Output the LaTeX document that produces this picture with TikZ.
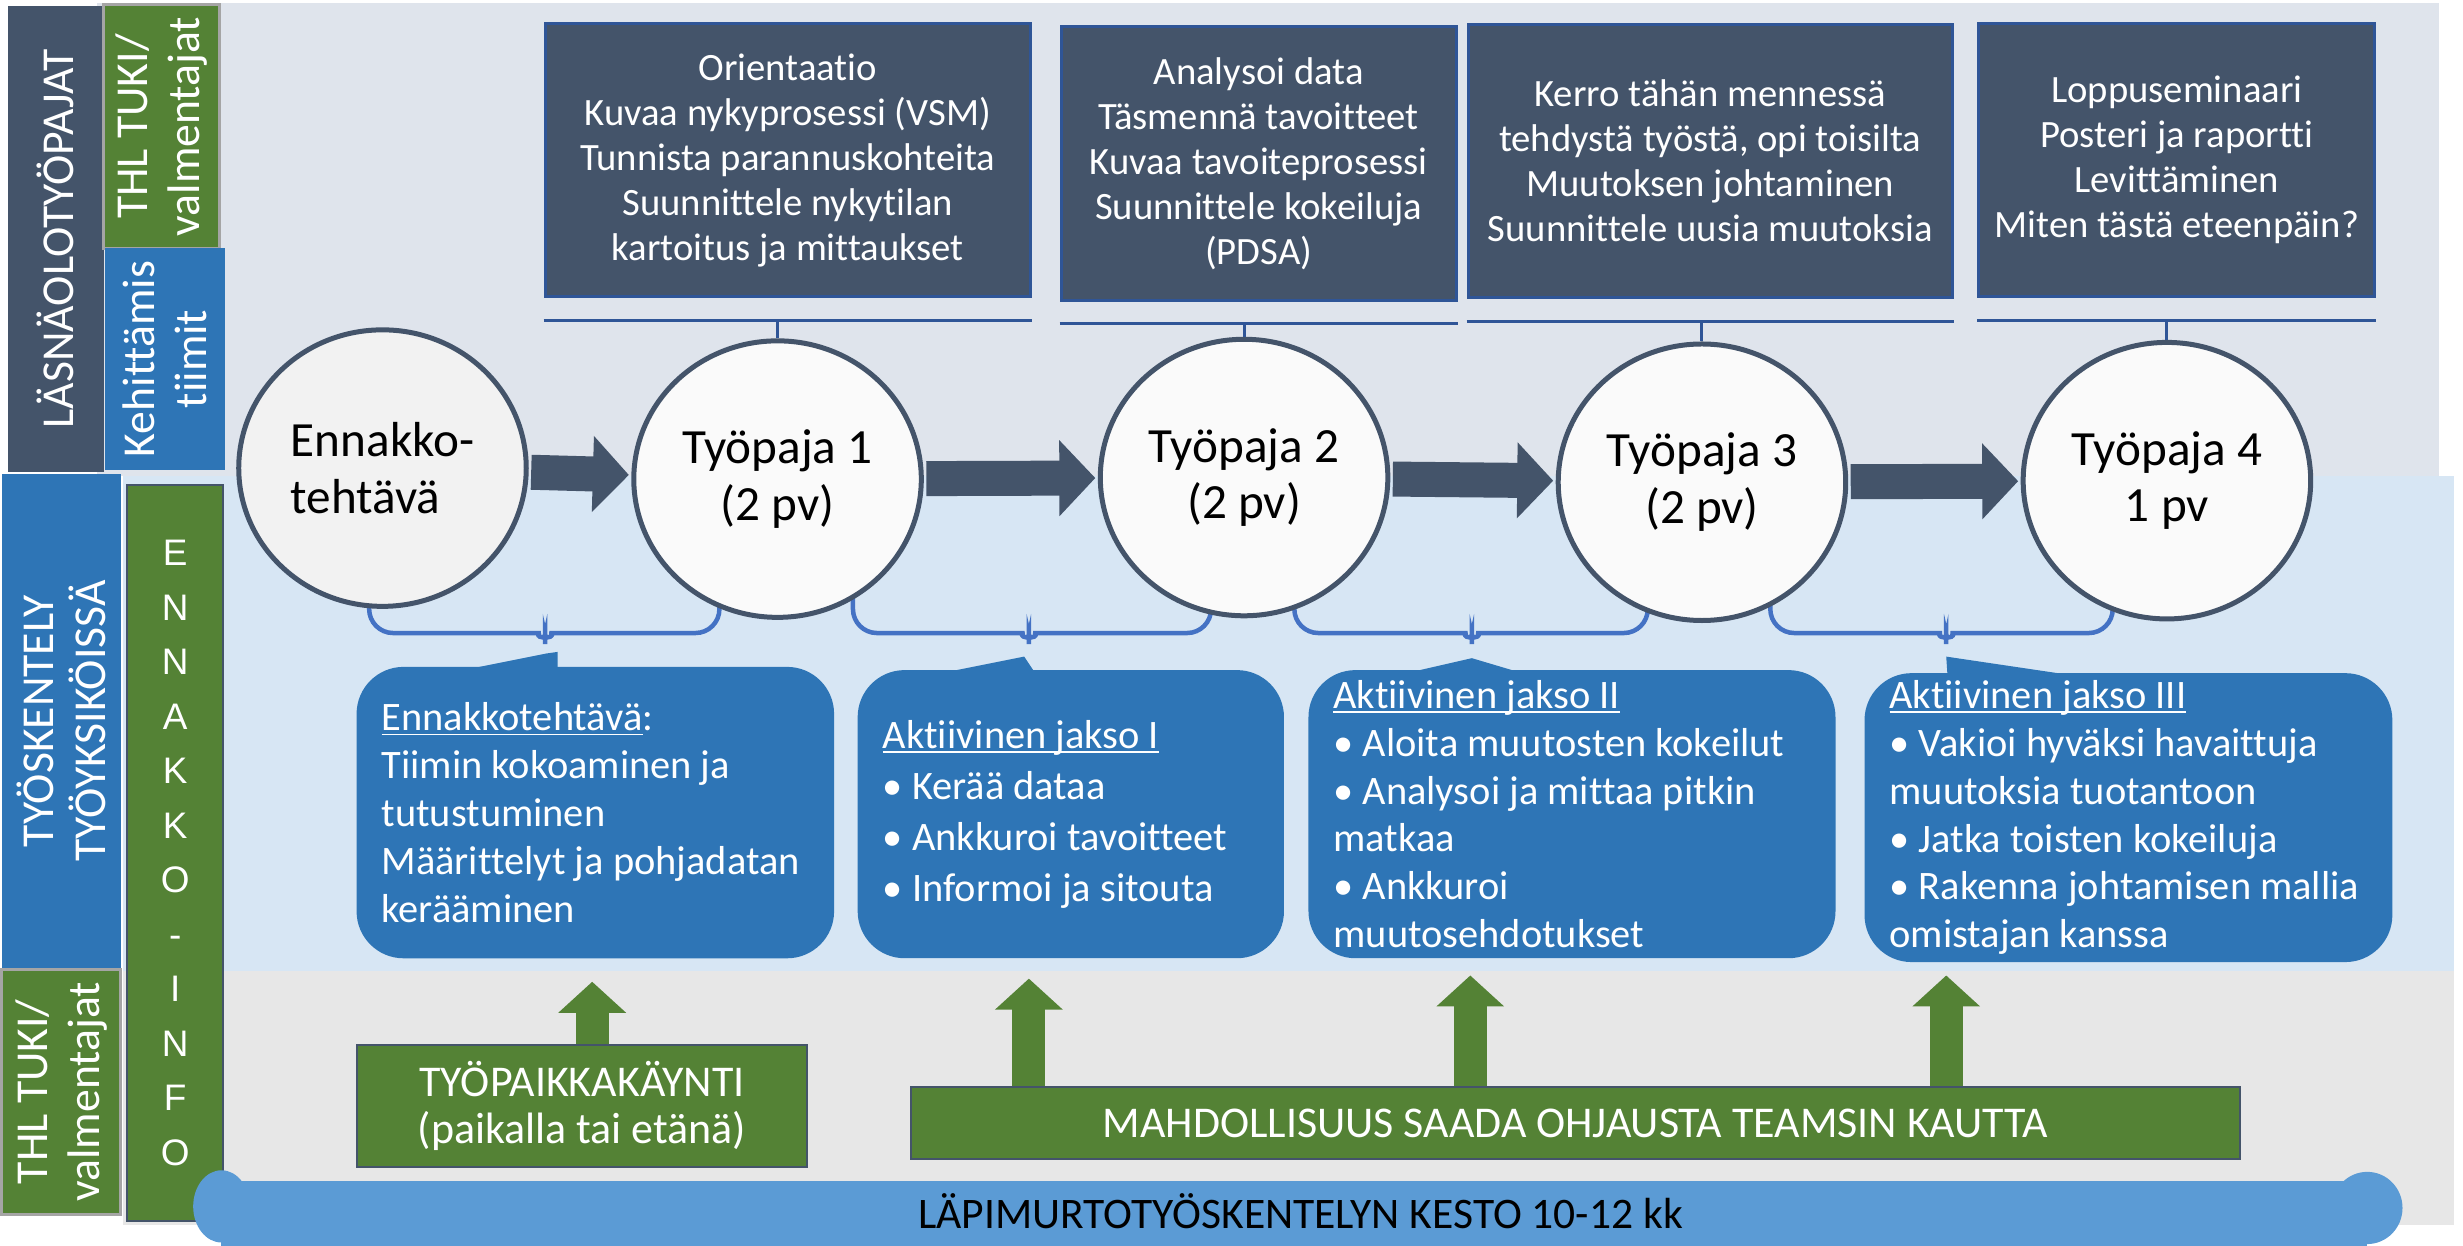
\documentclass[tikz,border=0pt]{standalone}
\usepackage{fontspec}
\setmainfont{Carlito}[Ligatures=CommonOff]
\newfontfamily\arialfont{Liberation Sans}
\usetikzlibrary{positioning,shapes.geometric,arrows.meta}

\definecolor{slate}{HTML}{44546A}
\definecolor{slateline}{HTML}{2F5597}
\definecolor{teamblue}{HTML}{2E75B6}
\definecolor{thlgreen}{HTML}{548235}
\definecolor{braceblue}{HTML}{4472C4}
\definecolor{barblue}{HTML}{5B9BD5}
\definecolor{bandtop}{HTML}{DFE4EC}
\definecolor{bandmid}{HTML}{D7E6F4}
\definecolor{bandlow}{HTML}{E7E7E7}
\definecolor{ringfill}{HTML}{FAFAFA}
\definecolor{ringfillA}{HTML}{F2F2F2}
\definecolor{greyedge}{HTML}{A5A5A5}

\tikzset{side/.style={rotate=90,inner sep=0pt,text=white,align=center,font=\fontsize{13}{14.7}\selectfont}}
\tikzset{topbox/.style={fill=slate,draw=slateline,line width=0.3mm,inner sep=0pt,text=white,align=center,font=\fontsize{11}{12.8}\selectfont}}
\tikzset{ring/.style={ellipse,draw=slate,line width=0.5mm,fill=ringfill,minimum width=28.75mm,minimum height=27.65mm,inner sep=0pt,align=center,font=\fontsize{14}{16.1}\selectfont}}
\tikzset{flow/.style={draw=slate,line width=3.5mm,-{Triangle[length=3.6mm,width=7.4mm]},shorten <=0.25mm,shorten >=0.25mm}}
\tikzset{bracket/.style={draw=slateline,line width=0.3mm}}
\tikzset{curly/.style={draw=braceblue,line width=0.45mm,rounded corners=2.4mm}}
\tikzset{callout/.style={fill=teamblue,rounded corners=4.7mm,inner xsep=2.5mm,inner ysep=0pt,text=white,align=flush left,font=\fontsize{11.5}{13.6}\selectfont}}
\tikzset{support/.style={fill=thlgreen,draw=slate,line width=0.2mm,inner sep=0pt,text=white,align=center,font=\fontsize{12.5}{13.5}\selectfont}}
\tikzset{lift/.style={draw=thlgreen,line width=3.3mm,-{Triangle[length=3.1mm,width=6.6mm]}}}

\newcommand{\lowbrace}[3]{\draw[curly] (#1,372) -- (#1,403) -- (#2-18,403) .. controls (#2-8,403) and (#2,409) .. (#2,419) .. controls (#2,409) and (#2+8,403) .. (#2+18,403) -- (#3,403) -- (#3,372);}
\newcommand{\jaksoline}[1]{\setbox0\hbox{#1}\rlap{\rule[-1.3pt]{\wd0}{0.5pt}}#1}

\begin{document}
\begin{tikzpicture}[x=0.15708mm,y=-0.15708mm]
  \useasboundingbox (0,0) rectangle (1568,793);
  \clip (0,0) rectangle (1568,793);
  \fill[bandtop] (62,2) rectangle (1553,303);
  \fill[bandmid] (78,303) rectangle (1562,618);
  \fill[bandlow] (78,618) rectangle (1562,780);

  \node[side,fill=slate,minimum width=46.65mm,minimum height=9.58mm] (lasna) at (35.4,152) {LÄSNÄOLOTYÖPAJAT};
  \node[side,fill=thlgreen,draw=greyedge,line width=0.3mm,minimum width=24.35mm,minimum height=11.62mm] (thlA) at (103,80.5) {THL TUKI/\\valmentajat};
  \node[side,fill=teamblue,minimum width=22.15mm,minimum height=11.94mm] (kehit) at (105,228.5) {Kehittämis\\tiimit};
  \node[side,fill=teamblue,minimum width=49.32mm,minimum height=11.94mm] (tyos) at (39,459) {TYÖSKENTELY\\TYÖYKSIKÖISSÄ};
  \node[side,fill=thlgreen,draw=greyedge,line width=0.3mm,minimum width=24.5mm,minimum height=11.94mm] (thlB) at (39,695) {THL TUKI/\\valmentajat};
  \node[fill=thlgreen,draw=slate,line width=0.2mm,inner sep=0pt,minimum width=9.58mm,minimum height=73.51mm,text=white,align=center,font=\arialfont\fontsize{10.5}{15.5}\selectfont] (einfo) at (111.5,543) {E\\N\\N\\A\\K\\K\\O\\-\\I\\N\\F\\O};

  \node[topbox,minimum width=48.54mm,minimum height=27.33mm] (b1) at (501.5,102) {Orientaatio\\Kuvaa nykyprosessi (VSM)\\Tunnista parannuskohteita\\Suunnittele nykytilan\\kartoitus ja mittaukset};
  \node[topbox,minimum width=39.5mm,minimum height=27.33mm] (b2) at (801.3,104) {Analysoi data\\Täsmennä tavoitteet\\Kuvaa tavoiteprosessi\\Suunnittele kokeiluja\\(PDSA)};
  \node[topbox,minimum width=48.44mm,minimum height=27.35mm] (b3) at (1088.8,102.5) {Kerro tähän mennessä\\tehdystä työstä, opi toisilta\\Muutoksen johtaminen\\Suunnittele uusia muutoksia};
  \node[topbox,minimum width=39.6mm,minimum height=27.33mm] (b4) at (1385.8,102) {Loppuseminaari\\Posteri ja raportti\\Levittäminen\\Miten tästä eteenpäin?};

  \lowbrace{235}{347}{458}
  \lowbrace{543}{655}{771}
  \lowbrace{824}{937}{1049}
  \lowbrace{1127}{1239}{1345}

  \fill[teamblue] (278,430) -- (348,416) -- (355,415) -- (355,430) -- cycle;
  \node[callout,text width=42.75mm,minimum width=47.75mm,minimum height=29.14mm] (c1) at (379,517.3) {\jaksoline{Ennakkotehtävä}:\\Tiimin kokoaminen ja\\tutustuminen\\Määrittelyt ja pohjadatan\\kerääminen};
  \fill[teamblue] (592,430) -- (652,418) -- (660,430) -- cycle;
  \node[callout,text width=37.6mm,minimum width=42.63mm,minimum height=28.81mm,font=\fontsize{11.5}{14.5}\selectfont] (c2) at (681.7,518.3) {\jaksoline{Aktiivinen jakso I}\\• Kerää dataa\\• Ankkuroi tavoitteet\\• Informoi ja sitouta};
  \fill[teamblue] (889,430) -- (937,419) -- (974,430) -- cycle;
  \node[callout,text width=47.7mm,minimum width=52.7mm,minimum height=28.81mm] (c3) at (1000.75,518.3) {\jaksoline{Aktiivinen jakso II}\\• Aloita muutosten kokeilut\\• Analysoi ja mittaa pitkin\\matkaa\\• Ankkuroi\\muutosehdotukset};
  \fill[teamblue] (1240,433) -- (1239,418) -- (1340,433) -- cycle;
  \node[callout,text width=47.78mm,minimum width=52.78mm,minimum height=28.89mm] (c4) at (1355,520.5) {\jaksoline{Aktiivinen jakso III}\\• Vakioi hyväksi havaittuja\\muutoksia tuotantoon\\• Jatka toisten kokeiluja\\• Rakenna johtamisen mallia\\omistajan kanssa};

  \node[ring,fill=ringfillA,align=left] (e0) at (243.5,298) {Ennakko-\\tehtävä};
  \node[ring] (w1) at (495,305) {Työpaja 1\\(2 pv)};
  \node[ring] (w2) at (792,304) {Työpaja 2\\(2 pv)};
  \node[ring] (w3) at (1083.5,307) {Työpaja 3\\(2 pv)};
  \node[ring] (w4) at (1379.5,306) {Työpaja 4\\1 pv};

  \foreach \b/\w in {b1/w1,b2/w2,b3/w3,b4/w4}{
    \coordinate (t\b) at ([yshift=-2.2mm]\b.south);
    \draw[bracket] (t\b -| \b.west) -- (t\b -| \b.east);
    \draw[bracket] (\w.north) -- (\w.north |- t\b);
  }
  \foreach \a/\z in {e0/w1,w1/w2,w2/w3,w3/w4}
    \draw[flow] (\a) -- (\z);

  \node[support,minimum width=45.08mm,minimum height=12.25mm] (visit) at (370.5,704) {TYÖPAIKKAKÄYNTI\\(paikalla tai etänä)};
  \node[support,minimum width=132.89mm,minimum height=7.23mm] (teams) at (1003,715) {MAHDOLLISUUS SAADA OHJAUSTA TEAMSIN KAUTTA};
  \coordinate (g1) at (377,625);
  \coordinate (g2) at (655,623);
  \coordinate (g3) at (936,621);
  \coordinate (g4) at (1239,621);
  \draw[lift] (g1 |- visit.north) -- (g1);
  \foreach \g in {g2,g3,g4}
    \draw[lift] (\g |- teams.north) -- (\g);

  \fill[barblue] (141,752) rectangle (1507,800);
  \fill[barblue] (141,768) ellipse [x radius=2.83mm, y radius=3.61mm];
  \fill[barblue] (1507,769) ellipse [x radius=3.53mm, y radius=3.61mm];
  \node[font=\fontsize{12.4}{14}\selectfont,inner sep=0pt] (kesto) at (828,771) {LÄPIMURTOTYÖSKENTELYN KESTO 10-12 kk};
\end{tikzpicture}
\end{document}
